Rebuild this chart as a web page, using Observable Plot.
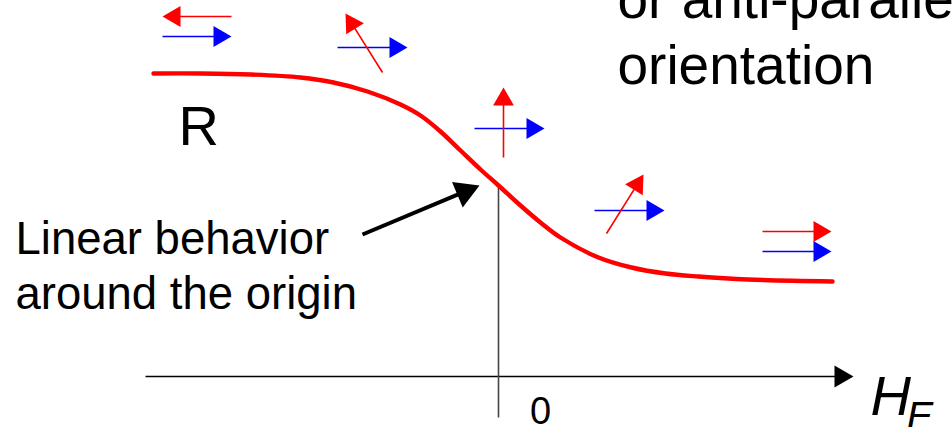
<!DOCTYPE html>
<html>
<head>
<meta charset="utf-8">
<script src="https://cdn.jsdelivr.net/npm/d3@7"></script>
<script src="https://cdn.jsdelivr.net/npm/@observablehq/plot@0.6"></script>
<style>
  html, body { margin: 0; padding: 0; background: #fff; overflow: hidden; }
</style>
</head>
<body>
<div id="chart"></div>
<script>
// ---- Data (H = field, R = resistance, arbitrary units) ----
const curveH = [-3.45, -2.98, -2.48, -1.98, -1.65, -1.31, -0.98, -0.78, -0.58, -0.38, -0.18, 0.00, 0.22, 0.42, 0.62, 1.00, 1.33, 1.67, 2.00, 2.49, 3.34];
const curveR = [ 3.03,  3.03,  3.02,  2.99,  2.94,  2.85,  2.72,  2.61,  2.45,  2.26,  2.07, 1.91, 1.71, 1.54, 1.39, 1.19, 1.09, 1.03, 1.00, 0.97, 0.95];

// magnetisation arrows (tail -> tip)
const arrowLayer = ["free", "pinned", "pinned", "free", "pinned", "free", "pinned", "free", "free", "pinned"];
const arrowX1 = [-2.67, -3.36, -1.61, -1.16, -0.24, 0.05, 0.96, 1.08, 2.64, 2.64];
const arrowY1 = [ 3.60,  3.40,  3.29,  3.04,  2.48, 2.19, 1.66, 1.43, 1.45, 1.25];
const arrowX2 = [-3.36, -2.67, -0.91, -1.53,  0.46, 0.05, 1.66, 1.45, 3.33, 3.33];
const arrowY2 = [ 3.60,  3.40,  3.29,  3.63,  2.48, 2.89, 1.66, 2.02, 1.45, 1.25];

// axis, origin line, callout arrow
const axisH = [-3.53, 3.55];
const originR = [-0.41, 1.92];
const calloutFrom = [-1.36, 1.42];
const calloutTo = [-0.19, 1.91];

// annotations
const rLabel = {text: "R", h: -3.20, r: 2.32};
const noteLines = ["or anti-parallel", "orientation"];
const noteH = [1.19, 1.19];
const noteR = [3.59, 2.93];
const linearLines = ["Linear behavior", "around the origin"];
const linearH = [-4.83, -4.83];
const linearR = [1.23, 0.68];
const zeroLabel = {text: "0", h: 0.42, r: -0.47};
const axisLabel = {main: "H", sub: "E", h: 3.72, r: -0.38, subH: 4.08, subR: -0.53};

// ---- Scales ----
const W = 952, HGT = 427;
const xDomain = [-4.98, 4.54];
const yDomain = [-0.51, 3.76];
const kx = W / (xDomain[1] - xDomain[0]);
const ky = HGT / (yDomain[1] - yDomain[0]);

// arrow geometry helper: head centroid sits 2/3 of head height behind tip
function withHead(rows, headPx) {
  return rows.map(d => {
    const dxp = (d.x2 - d.x1) * kx, dyp = (d.y2 - d.y1) * ky;
    const len = Math.hypot(dxp, dyp);
    const back = (2 / 3) * headPx;
    return {
      ...d,
      cx: d.x2 - (dxp / len) * back / kx,
      cy: d.y2 - (dyp / len) * back / ky,
      angle: Math.atan2(dxp, dyp) * 180 / Math.PI
    };
  });
}
const triR = h => Math.sqrt((h / 3) ** 2 * 3 * Math.sqrt(3) / Math.PI);

const spinArrows = withHead(arrowLayer.map((layer, i) => ({
  layer, x1: arrowX1[i], y1: arrowY1[i], x2: arrowX2[i], y2: arrowY2[i]
})), 18);
const axisArrow = withHead([{x1: axisH[0], y1: 0, x2: axisH[1], y2: 0}], 19);
const callout = withHead([{x1: calloutFrom[0], y1: calloutFrom[1], x2: calloutTo[0], y2: calloutTo[1]}], 24);
const curve = curveH.map((h, i) => ({h, r: curveR[i]}));

const font = "'Liberation Sans', Arial, Helvetica, sans-serif";

const chart = Plot.plot({
  width: W,
  height: HGT,
  margin: 0,
  x: {domain: xDomain, range: [0, W], axis: null},
  y: {domain: yDomain, range: [HGT, 0], axis: null},
  color: {domain: ["free", "pinned"], range: ["#ff0000", "#0000ff"]},
  style: {fontFamily: font, background: "#fff"},
  marks: [
    // H axis
    Plot.link(axisArrow, {x1: "x1", y1: "y1", x2: "cx", y2: "cy", stroke: "#000", strokeWidth: 1.5}),
    Plot.dot(axisArrow, {x: "cx", y: "cy", rotate: "angle", symbol: d3.symbolTriangle, r: triR(19), fill: "#000", stroke: "none"}),
    // origin line
    Plot.link([{a: originR[0], b: originR[1]}], {x1: 0, x2: 0, y1: "a", y2: "b", stroke: "#444", strokeWidth: 1.6}),
    // R(H) curve
    Plot.line(curve, {x: "h", y: "r", curve: "catmull-rom", stroke: "#ff0000", strokeWidth: 4.4, strokeLinecap: "round"}),
    // spin arrows
    Plot.link(spinArrows, {x1: "x1", y1: "y1", x2: "cx", y2: "cy", stroke: "layer", strokeWidth: 1.6}),
    Plot.dot(spinArrows, {x: "cx", y: "cy", rotate: "angle", symbol: d3.symbolTriangle, r: triR(18), fill: "layer", stroke: "none"}),
    // callout arrow
    Plot.link(callout, {x1: "x1", y1: "y1", x2: "cx", y2: "cy", stroke: "#000", strokeWidth: 4}),
    Plot.dot(callout, {x: "cx", y: "cy", rotate: "angle", symbol: d3.symbolTriangle, r: triR(24), fill: "#000", stroke: "none"}),
    // texts
    Plot.text([rLabel], {x: "h", y: "r", text: "text", fontSize: 56, textAnchor: "start", lineAnchor: "bottom", fill: "#000"}),
    Plot.text(noteLines, {x: (d, i) => noteH[i], y: (d, i) => noteR[i], text: d => d, fontSize: 55, textAnchor: "start", lineAnchor: "bottom", fill: "#000"}),
    Plot.text(linearLines, {x: (d, i) => linearH[i], y: (d, i) => linearR[i], text: d => d, fontSize: 45.5, textAnchor: "start", lineAnchor: "bottom", fill: "#000"}),
    Plot.text([zeroLabel], {x: "h", y: "r", text: "text", fontSize: 38, textAnchor: "middle", lineAnchor: "bottom", fill: "#000"}),
    Plot.text([axisLabel], {x: "h", y: "r", text: "main", fontSize: 56, fontStyle: "italic", textAnchor: "start", lineAnchor: "bottom", fill: "#000"}),
    Plot.text([axisLabel], {x: "subH", y: "subR", text: "sub", fontSize: 40, fontStyle: "italic", textAnchor: "start", lineAnchor: "bottom", fill: "#000"})
  ]
});
document.getElementById("chart").append(chart);
</script>
</body>
</html>
